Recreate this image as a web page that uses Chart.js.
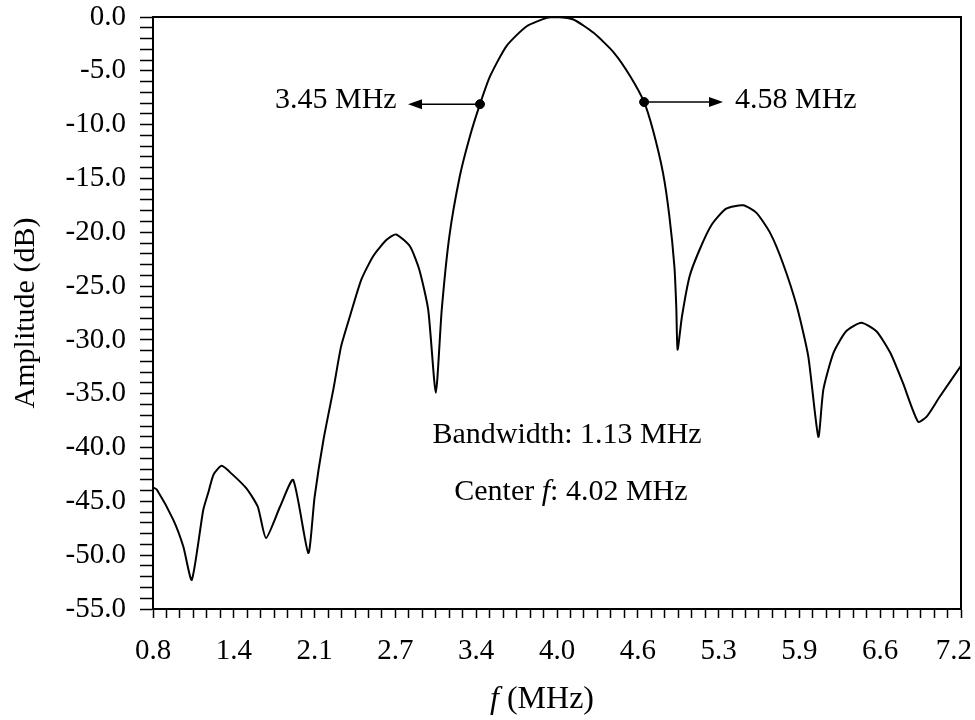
<!DOCTYPE html>
<html>
<head>
<meta charset="utf-8">
<script src="https://cdn.jsdelivr.net/npm/chart.js@4"></script>
<style>
  body { margin: 0; background: #fff; }
</style>
</head>
<body>
<canvas id="myChart" width="975" height="720"></canvas>
<script>
// frequency response (MHz, dB)
const freq = [0.80, 0.83, 0.96, 1.04, 1.107, 1.198, 1.24, 1.28, 1.344, 1.42, 1.54, 1.63, 1.695, 1.806, 1.91, 2.03, 2.08, 2.15, 2.23, 2.29,
    2.36, 2.45, 2.545, 2.65, 2.725, 2.835, 2.91, 2.98, 3.04, 3.087, 3.147, 3.23, 3.31, 3.39, 3.47, 3.60, 3.76, 3.92, 4.00, 4.13,
    4.29, 4.45, 4.58, 4.69, 4.76, 4.84, 4.89, 4.93, 4.945, 4.955, 4.99, 5.05, 5.13, 5.225, 5.34, 5.475, 5.58, 5.69, 5.79, 5.90,
    5.99, 6.07, 6.11, 6.19, 6.29, 6.41, 6.53, 6.64, 6.74, 6.86, 6.93, 7.03, 7.20];
const amp = [-43.7, -43.9, -46.7, -49.2, -52.3, -45.8, -44.1, -42.5, -41.7, -42.4, -43.8, -45.5, -48.4, -45.5, -43.0, -49.8, -44.6, -39.3, -34.5, -30.6,
    -27.8, -24.4, -22.2, -20.7, -20.2, -21.3, -23.5, -27.2, -34.9, -27.2, -20.4, -14.8, -11.1, -8.1, -5.5, -2.7, -0.86, -0.08, 0, -0.23,
    -1.47, -3.3, -5.5, -7.9, -10.5, -14.5, -18.5, -23.2, -27.0, -30.9, -27.8, -24.1, -21.6, -19.3, -17.8, -17.5, -18.2, -20.1, -22.9, -26.9,
    -31.5, -39.0, -34.6, -31.2, -29.2, -28.4, -29.2, -31.2, -34.0, -37.6, -37.1, -35.3, -32.4];

// -8 dB band edges (dots)
const edgeFreq = [3.39, 4.69];
const edgeAmp = [-8.1, -7.9];
const edgeLabels = ['3.45 MHz', '4.58 MHz'];

const xMajorTicks = [0.8, 1.44, 2.08, 2.72, 3.36, 4.0, 4.64, 5.28, 5.92, 6.56, 7.2];
const xTickLabels = ['0.8', '1.4', '2.1', '2.7', '3.4', '4.0', '4.6', '5.3', '5.9', '6.6', '7.2'];
const yMajorTicks = [0, -5, -10, -15, -20, -25, -30, -35, -40, -45, -50, -55];
const yTickLabels = ['0.0', '-5.0', '-10.0', '-15.0', '-20.0', '-25.0', '-30.0', '-35.0', '-40.0', '-45.0', '-50.0', '-55.0'];

const bandwidthText = 'Bandwidth: 1.13 MHz';
const centerValue = ': 4.02 MHz';

const serif = '"Liberation Serif", "Times New Roman", serif';

// minor ticks: 6 steps between x labels, 1 dB on y
let xTicks = [];
for (let i = 0; i < xMajorTicks.length - 1; i++) {
    for (let k = 0; k < 6; k++) xTicks.push(xMajorTicks[i] + (xMajorTicks[i + 1] - xMajorTicks[i]) * k / 6);
}
xTicks.push(xMajorTicks[xMajorTicks.length - 1]);
let yTicks = [];
for (let v = -55; v <= 0; v++) yTicks.push(v);

const findLabel = (v, majors, labels) => {
    const i = majors.findIndex(m => Math.abs(m - v) < 1e-6);
    return i < 0 ? '' : labels[i];
};

function arrow(ctx, x0, y0, x1) {
    const dir = x1 < x0 ? -1 : 1;
    ctx.beginPath();
    ctx.moveTo(x0, y0);
    ctx.lineTo(x1 - dir * 10, y0);
    ctx.stroke();
    ctx.beginPath();
    ctx.moveTo(x1, y0);
    ctx.lineTo(x1 - dir * 14, y0 - 5);
    ctx.lineTo(x1 - dir * 14, y0 + 5);
    ctx.closePath();
    ctx.fill();
}

const extras = {
    id: 'extras',
    afterDraw(chart) {
        const {ctx, chartArea: a, scales: {x, y}} = chart;
        ctx.save();
        ctx.strokeStyle = '#000';
        ctx.fillStyle = '#000';
        ctx.lineWidth = 2;
        ctx.strokeRect(a.left, a.top, a.right - a.left, a.bottom - a.top);

        // arrows from the band edge dots
        ctx.lineWidth = 1.6;
        arrow(ctx, x.getPixelForValue(edgeFreq[0]), y.getPixelForValue(edgeAmp[0]), x.getPixelForValue(2.82));
        arrow(ctx, x.getPixelForValue(edgeFreq[1]), y.getPixelForValue(edgeAmp[1]), x.getPixelForValue(5.315));

        ctx.font = '30px ' + serif;
        ctx.textBaseline = 'middle';
        ctx.textAlign = 'right';
        ctx.fillText(edgeLabels[0], x.getPixelForValue(2.73), y.getPixelForValue(-7.7));
        ctx.textAlign = 'left';
        ctx.fillText(edgeLabels[1], x.getPixelForValue(5.41), y.getPixelForValue(-7.7));

        ctx.textAlign = 'center';
        ctx.fillText(bandwidthText, x.getPixelForValue(4.08), y.getPixelForValue(-38.8));

        // "Center f: 4.02 MHz" with italic f
        const normal = '30px ' + serif, italic = 'italic 30px ' + serif;
        ctx.textAlign = 'left';
        ctx.font = normal;
        const w1 = ctx.measureText('Center ').width, w3 = ctx.measureText(centerValue).width;
        ctx.font = italic;
        const w2 = ctx.measureText('f').width;
        let cx = x.getPixelForValue(4.11) - (w1 + w2 + w3) / 2;
        const cy = y.getPixelForValue(-44.1);
        ctx.font = normal; ctx.fillText('Center ', cx, cy); cx += w1;
        ctx.font = italic; ctx.fillText('f', cx, cy); cx += w2;
        ctx.font = normal; ctx.fillText(centerValue, cx, cy);

        // x axis title "f (MHz)"
        const tf = '32px ' + serif, tfi = 'italic 32px ' + serif;
        ctx.font = tfi;
        const t1 = ctx.measureText('f').width;
        ctx.font = tf;
        const t2 = ctx.measureText(' (MHz)').width;
        let tx = (a.left + a.right) / 2 - 15 - (t1 + t2) / 2;
        ctx.font = tfi; ctx.fillText('f', tx, 700);
        ctx.font = tf; ctx.fillText(' (MHz)', tx + t1, 700);
        ctx.restore();
    }
};

const curve = freq.map((f, i) => ({x: f, y: amp[i]}));
const dots = edgeFreq.map((f, i) => ({x: f, y: edgeAmp[i]}));

const config = {
    type: 'scatter',
    data: {
        datasets: [
            {data: curve, showLine: true, pointRadius: 0, borderColor: '#000', borderWidth: 2, tension: 0.2, clip: 5},
            {data: dots, pointRadius: 4.5, pointBackgroundColor: '#000', pointBorderColor: '#000', showLine: false}
        ]
    },
    plugins: [extras],
    options: {
        responsive: false,
        animation: false,
        devicePixelRatio: 1,
        layout: {padding: {top: 17, right: 14, left: 0, bottom: 0}},
        plugins: {legend: {display: false}, tooltip: {enabled: false}},
        scales: {
            x: {
                type: 'linear', min: 0.8, max: 7.2,
                afterBuildTicks: (s) => { s.ticks = xTicks.map(v => ({value: v})); },
                afterFit: (s) => { s.height = 111; s.paddingLeft = 0; s.paddingRight = 0; },
                ticks: {
                    autoSkip: false, maxRotation: 0, padding: 16, color: '#000',
                    font: {family: serif, size: 29},
                    // last label sits at the canvas edge, pad it so it stays inside
                    callback: (v) => {
                        const t = findLabel(v, xMajorTicks, xTickLabels);
                        return Math.abs(v - 7.2) < 1e-6 ? t + '\u00a0\u00a0' : t;
                    }
                },
                grid: {drawOnChartArea: false, tickLength: 9, tickColor: '#000', tickWidth: 1.5},
                border: {color: '#000', width: 2}
            },
            y: {
                type: 'linear', min: -55, max: 0,
                afterBuildTicks: (s) => { s.ticks = yTicks.map(v => ({value: v})); },
                afterFit: (s) => { s.width = 153; s.paddingTop = 0; s.paddingBottom = 0; },
                ticks: {
                    autoSkip: false, padding: 14, color: '#000',
                    font: {family: serif, size: 29},
                    callback: (v) => findLabel(v, yMajorTicks, yTickLabels)
                },
                grid: {drawOnChartArea: false, tickLength: 13, tickColor: '#000', tickWidth: 1.5},
                border: {color: '#000', width: 2},
                title: {display: true, text: 'Amplitude (dB)', color: '#000', font: {family: serif, size: 30}, padding: {top: 8, bottom: 0}}
            }
        }
    }
};

window.myChart = new Chart(document.getElementById('myChart'), config);
</script>
</body>
</html>
